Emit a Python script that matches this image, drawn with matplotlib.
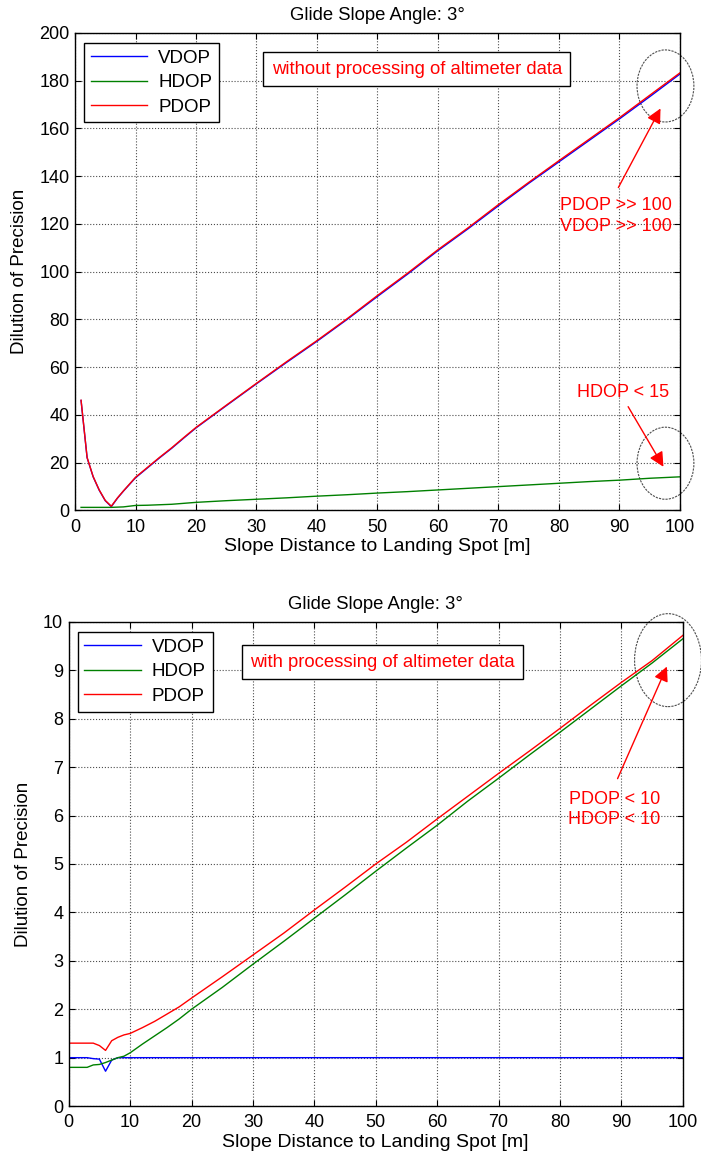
import matplotlib
matplotlib.use("Agg")
import matplotlib.pyplot as plt
from matplotlib.patches import Ellipse

plt.rcParams['font.family'] = ['Liberation Sans', 'DejaVu Sans']
plt.rcParams['font.size'] = 12

# top panel: without altimeter data
dist_top = [1, 2, 3, 4, 5, 6, 7, 8, 10, 12, 14, 16, 18, 20, 25, 30, 35, 40, 45, 50,
            55, 60, 65, 70, 75, 80, 85, 90, 95, 100]
vdop_top = [46, 22, 14, 8.4, 4, 1.5, 5, 8, 13.6, 17.8, 22, 26, 30.3, 34.5, 43.8, 53, 62, 70.8,
            80, 89.6, 99, 108.8, 118, 127.6, 137, 146, 155, 164, 173.3, 182.8]
hdop_top = [1.2, 1.2, 1.2, 1.2, 1.2, 1.2, 1.3, 1.4, 2.0, 2.1, 2.3, 2.5, 2.9, 3.3, 4.0, 4.6,
            5.2, 5.9, 6.5, 7.2, 7.8, 8.5, 9.2, 9.9, 10.6, 11.3, 12.0, 12.6, 13.4, 14.0]
pdop_top = [46.1, 22.1, 14.1, 8.5, 4.1, 1.7, 5.1, 8.1, 13.8, 18.0, 22.2, 26.2, 30.5, 34.7,
            44.0, 53.2, 62.3, 71.1, 80.3, 90.0, 99.4, 109.2, 118.4, 128.1, 137.4, 146.5,
            155.5, 164.5, 173.9, 183.3]

# bottom panel: with altimeter data
dist_bot = [0, 1, 2, 3, 4, 5, 6, 7, 8, 9, 10, 12, 14, 16, 18, 20, 25, 30, 35, 40, 45, 50,
            55, 60, 65, 70, 75, 80, 85, 90, 95, 100]
vdop_bot = [1.0, 1.0, 1.0, 1.0, 0.98, 0.97, 0.72, 0.95, 1.0, 1.0, 1.0, 1.0, 1.0, 1.0, 1.0,
            1.0, 1.0, 1.0, 1.0, 1.0, 1.0, 1.0, 1.0, 1.0, 1.0, 1.0, 1.0, 1.0, 1.0, 1.0, 1.0, 1.0]
hdop_bot = [0.8, 0.8, 0.8, 0.8, 0.85, 0.86, 0.9, 0.95, 1.0, 1.03, 1.1, 1.28, 1.45, 1.62, 1.8,
            2.0, 2.45, 2.93, 3.4, 3.88, 4.36, 4.85, 5.33, 5.8, 6.3, 6.77, 7.25, 7.72, 8.2,
            8.68, 9.15, 9.65]
pdop_bot = [1.3, 1.3, 1.3, 1.3, 1.3, 1.25, 1.15, 1.35, 1.42, 1.47, 1.5, 1.62, 1.75, 1.9, 2.05,
            2.23, 2.67, 3.12, 3.57, 4.05, 4.52, 5.0, 5.45, 5.93, 6.4, 6.87, 7.33, 7.8, 8.28,
            8.75, 9.2, 9.72]

GREEN = (0, 0.5, 0)

fig = plt.figure(figsize=(7.01, 11.57), dpi=100)
ax1 = fig.add_axes([0.107, 0.559, 0.863, 0.4125])
ax2 = fig.add_axes([0.098, 0.044, 0.876, 0.4185])


def style(ax, ylim, yticks):
    ax.set_xlim(0, 100)
    ax.set_ylim(*ylim)
    ax.set_xticks(range(0, 101, 10))
    ax.set_yticks(yticks)
    ax.tick_params(direction='in', top=True, right=True, length=4, labelsize=13)
    ax.tick_params(axis='x', pad=6)
    ax.tick_params(axis='y', pad=4)
    ax.grid(True, linestyle=':', color='0.3', linewidth=0.8)
    for s in ax.spines.values():
        s.set_linewidth(1.0)
    ax.set_title('Glide Slope Angle: 3°', fontsize=13.3, pad=9)
    ax.set_xlabel('Slope Distance to Landing Spot [m]', fontsize=14, labelpad=2)
    ax.set_ylabel('Dilution of Precision', fontsize=13.5, labelpad=8)


def legend(ax):
    lg = ax.legend(loc='upper left', bbox_to_anchor=(0.015, 0.979), borderaxespad=0,
                   fancybox=False, edgecolor='black', framealpha=1, handlelength=3.0,
                   fontsize=13.5, borderpad=0.35, labelspacing=0.4, handletextpad=0.6)
    lg.get_frame().set_linewidth(1.0)


# top
ax1.plot(dist_top, vdop_top, color='b', lw=1, label='VDOP')
ax1.plot(dist_top, hdop_top, color=GREEN, lw=1, label='HDOP')
ax1.plot(dist_top, pdop_top, color='r', lw=1, label='PDOP')
style(ax1, (0, 200), range(0, 201, 20))
legend(ax1)
ax1.text(56.5, 184.9, 'without processing of altimeter data', color='r', fontsize=13.3,
         ha='center', va='center',
         bbox=dict(boxstyle='square,pad=0.45', fc='white', ec='black', lw=1))
ax1.text(98.7, 123.3, 'PDOP >> 100\nVDOP >> 100', color='r', fontsize=13, ha='right',
         va='center', linespacing=1.25)
ax1.annotate('', xy=(97.0, 169.4), xytext=(89.6, 134.2),
             arrowprops=dict(arrowstyle='-|>', color='r', lw=1, mutation_scale=22))
ax1.text(90.6, 49.5, 'HDOP < 15', color='r', fontsize=13, ha='center', va='center')
ax1.annotate('', xy=(97.5, 17.2), xytext=(91.2, 44.4),
             arrowprops=dict(arrowstyle='-|>', color='r', lw=1, mutation_scale=22))
for cy in (177.8, 19.7):
    ax1.add_patch(Ellipse((97.6, cy), 9.4, 30.2, fill=False, ec='0.3', lw=0.8,
                          ls=(0, (2, 1)), clip_on=False))

# bottom
ax2.plot(dist_bot, vdop_bot, color='b', lw=1, label='VDOP')
ax2.plot(dist_bot, hdop_bot, color=GREEN, lw=1, label='HDOP')
ax2.plot(dist_bot, pdop_bot, color='r', lw=1, label='PDOP')
style(ax2, (0, 10), range(0, 11, 1))
legend(ax2)
ax2.text(51.1, 9.17, 'with processing of altimeter data', color='r', fontsize=13.3,
         ha='center', va='center',
         bbox=dict(boxstyle='square,pad=0.45', fc='white', ec='black', lw=1))
ax2.text(88.9, 6.12, 'PDOP < 10\nHDOP < 10', color='r', fontsize=13, ha='center',
         va='center', linespacing=1.25)
ax2.annotate('', xy=(97.6, 9.13), xytext=(89.2, 6.71),
             arrowprops=dict(arrowstyle='-|>', color='r', lw=1, mutation_scale=22))
ax2.add_patch(Ellipse((97.6, 9.21), 10.9, 1.92, fill=False, ec='0.3', lw=0.8,
                      ls=(0, (2, 1)), clip_on=False))

fig.savefig('out.png', dpi=100)
